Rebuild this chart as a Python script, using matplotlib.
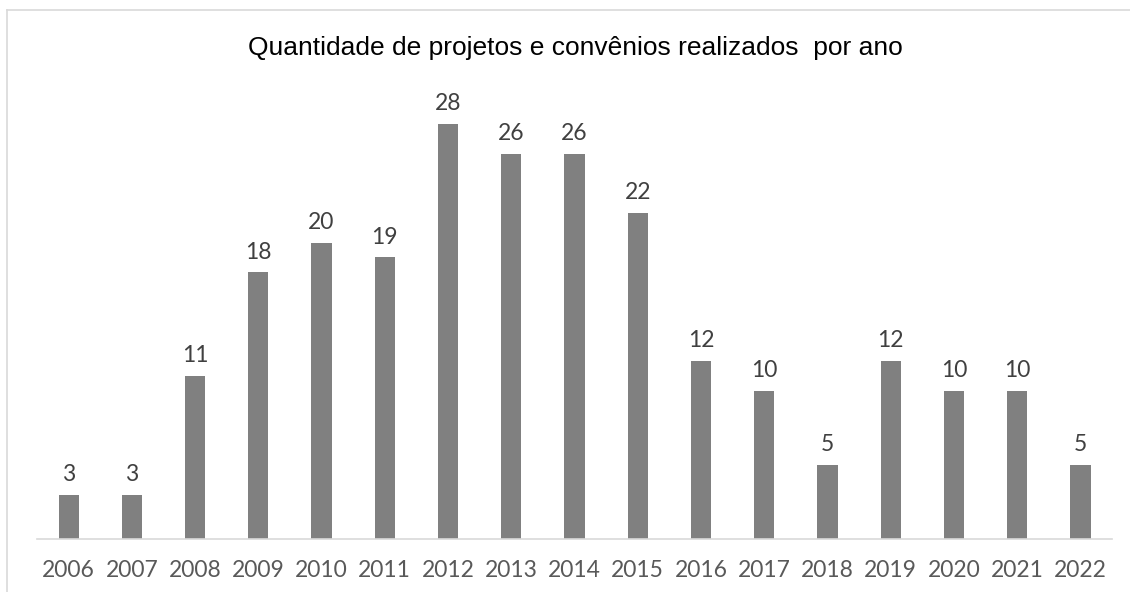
import matplotlib

matplotlib.use("Agg")
import matplotlib.pyplot as plt
from matplotlib.lines import Line2D

anos = ["2006", "2007", "2008", "2009", "2010", "2011", "2012", "2013", "2014",
        "2015", "2016", "2017", "2018", "2019", "2020", "2021", "2022"]
quantidades = [3, 3, 11, 18, 20, 19, 28, 26, 26, 22, 12, 10, 5, 12, 10, 10, 5]

W, H = 1130, 592
fig = plt.figure(figsize=(W / 100, H / 100), dpi=100)

# moldura cinza clara (só aparecem topo e esquerda)
fig.add_artist(Line2D([7 / W, 7 / W], [0, 1 - 10 / H], transform=fig.transFigure,
                      color="#d9d9d9", lw=1.2))
fig.add_artist(Line2D([7 / W, 1], [1 - 10 / H, 1 - 10 / H], transform=fig.transFigure,
                      color="#d9d9d9", lw=1.2))

left, right, base = 37, 1112, 539
ax = fig.add_axes([left / W, (H - base) / H, (right - left) / W, 445 / H])

x = range(len(anos))
bars = ax.bar(x, quantidades, width=0.32, color="#808080")
ax.bar_label(bars, padding=7, fontsize=16.5, color="#404040", family="Lato")

ax.set_xlim(-0.5, len(anos) - 0.5)
ax.set_ylim(0, 445 / 14.82)
ax.set_xticks(list(x))
ax.set_xticklabels(anos, fontsize=16.5, color="#595959", family="Lato")
ax.tick_params(axis="x", length=0, pad=15)
ax.set_yticks([])
for s in ["top", "right", "left"]:
    ax.spines[s].set_visible(False)
ax.spines["bottom"].set_color("#d9d9d9")
ax.spines["bottom"].set_linewidth(1.2)

fig.text(575 / W, 1 - 48 / H, "Quantidade de projetos e convênios realizados  por ano",
         ha="center", va="center", fontsize=19, family="Liberation Sans", color="black")

plt.savefig("out.png", dpi=100)
plt.close()
